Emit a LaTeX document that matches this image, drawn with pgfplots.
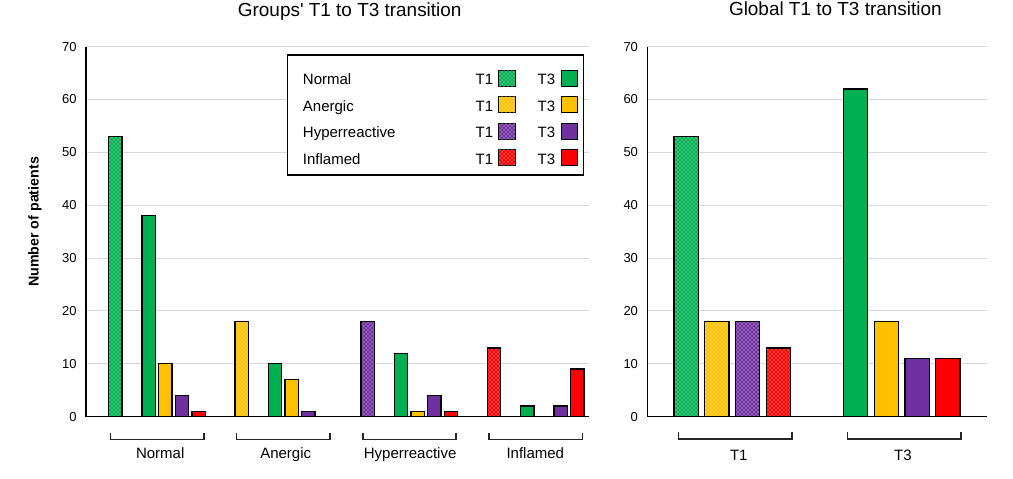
\documentclass[border=0pt]{standalone}
\usepackage{fontspec}
\setmainfont{Liberation Sans}
\usepackage{pgfplots}
\pgfplotsset{compat=1.18}
\usetikzlibrary{patterns}
\definecolor{cgreen}{HTML}{00B050}
\definecolor{cyellow}{HTML}{FFC000}
\definecolor{cpurple}{HTML}{7030A0}
\definecolor{cred}{HTML}{FF0000}
\definecolor{cgrid}{HTML}{D9D9D9}
\tikzset{brk/.style={draw=black!85, line width=1.25pt},
  lab/.style={anchor=base, font=\fontsize{11.25}{13}\selectfont}}
\pgfplotsset{
  base/.style={scale only axis, axis lines=left,
    axis line style={-, line width=1.05pt, black},
    ymin=0, ymax=70, ytick={0,10,...,70}, xtick=\empty,
    ymajorgrids, grid style={line width=0.75pt, color=cgrid},
    major tick length=0pt,
    tick label style={font=\fontsize{9.75}{11}\selectfont, black},
    /pgf/number format/assume math mode=true,
    yticklabel style={xshift=-3.5pt},
    clip=false},
  pat/.style={ybar, bar shift=0pt, draw=black, line width=0.95pt, fill=#1,
    postaction={pattern=crosshatch dots, pattern color=white}},
  sol/.style={ybar, bar shift=0pt, draw=black, line width=0.95pt, fill=#1},
}
\begin{document}
\begin{tikzpicture}[x=0.75pt,y=0.75pt]
\useasboundingbox (0,0) rectangle (1013,478);
% ---------------- left chart ----------------
\begin{axis}[base, at={(64.5pt,46pt)}, anchor=south west,
  width=377.5pt, height=277.5pt, xmin=-1.76, xmax=28.43]
\addplot[pat=cgreen, bar width=10pt] coordinates {(0,53)};
\addplot[pat=cyellow, bar width=10pt] coordinates {(7.57,18)};
\addplot[pat=cpurple, bar width=10pt] coordinates {(15.14,18)};
\addplot[pat=cred, bar width=10pt] coordinates {(22.71,13)};
\addplot[sol=cgreen, bar width=10pt] coordinates {(2,38) (9.57,10) (17.14,12) (24.71,2)};
\addplot[sol=cyellow, bar width=10pt] coordinates {(3,10) (10.57,7) (18.14,1) (25.71,0)};
\addplot[sol=cpurple, bar width=10pt] coordinates {(4,4) (11.57,1) (19.14,4) (26.71,2)};
\addplot[sol=cred, bar width=10pt] coordinates {(5,1) (12.57,0) (20.14,1) (27.71,9)};
\draw[brk] (axis cs:-0.3,-3.0) -- (axis cs:-0.3,-4.3) -- (axis cs:5.3,-4.3) -- (axis cs:5.3,-3.0);
\draw[brk] (axis cs:7.27,-3.0) -- (axis cs:7.27,-4.3) -- (axis cs:12.87,-4.3) -- (axis cs:12.87,-3.0);
\draw[brk] (axis cs:14.84,-3.0) -- (axis cs:14.84,-4.3) -- (axis cs:20.44,-4.3) -- (axis cs:20.44,-3.0);
\draw[brk] (axis cs:22.41,-3.0) -- (axis cs:22.41,-4.3) -- (axis cs:28.01,-4.3) -- (axis cs:28.01,-3.0);
\node[lab] at (axis cs:2.69,-8.0) {Normal};
\node[lab] at (axis cs:10.22,-8.0) {Anergic};
\node[lab] at (axis cs:17.68,-8.0) {Hyperreactive};
\node[lab] at (axis cs:25.19,-8.0) {Inflamed};
\end{axis}
% ---------------- right chart ----------------
\begin{axis}[base, at={(485.5pt,46pt)}, anchor=south west,
  width=254.5pt, height=277.5pt, xmin=-1.26, xmax=9.76]
\addplot[pat=cgreen, bar width=18.2pt] coordinates {(0,53)};
\addplot[pat=cyellow, bar width=18.2pt] coordinates {(1,18)};
\addplot[pat=cpurple, bar width=18.2pt] coordinates {(2,18)};
\addplot[pat=cred, bar width=18.2pt] coordinates {(3,13)};
\addplot[sol=cgreen, bar width=18.2pt] coordinates {(5.5,62)};
\addplot[sol=cyellow, bar width=18.2pt] coordinates {(6.5,18)};
\addplot[sol=cpurple, bar width=18.2pt] coordinates {(7.5,11)};
\addplot[sol=cred, bar width=18.2pt] coordinates {(8.5,11)};
\draw[brk] (axis cs:-0.25,-2.9) -- (axis cs:-0.25,-4.2) -- (axis cs:3.43,-4.2) -- (axis cs:3.43,-2.9);
\draw[brk] (axis cs:5.24,-2.9) -- (axis cs:5.24,-4.2) -- (axis cs:8.93,-4.2) -- (axis cs:8.93,-2.9);
\node[lab] at (axis cs:1.71,-8.2) {T1};
\node[lab] at (axis cs:7.04,-8.2) {T3};
\end{axis}
% ---------------- titles and label ----------------
\node[anchor=base, font=\fontsize{14.2}{16}\selectfont] at (349.7,461) {Groups\textquotesingle\ T1 to T3 transition};
\node[anchor=base, font=\fontsize{14.2}{16}\selectfont] at (835.3,462) {Global T1 to T3 transition};
\node[anchor=base, rotate=90, font=\fontsize{10.7}{12}\selectfont\bfseries] at (38.5,256) {Number of patients};
% ---------------- legend ----------------
\draw[black, line width=0.9pt, fill=white] (287.3,423) rectangle (583.3,303);
\foreach \i/\name/\col in {0/Normal/cgreen, 1/Anergic/cyellow, 2/Hyperreactive/cpurple, 3/Inflamed/cred}{
  \pgfmathsetmacro{\yb}{478-84.7-26.5*\i}
  \pgfmathsetmacro{\yc}{478-78.3-26.5*\i}
  \node[anchor=base west, inner sep=0pt, font=\fontsize{11.25}{13}\selectfont] at (302.7,\yb) {\name};
  \node[anchor=base east, inner sep=0pt, font=\fontsize{11.25}{13}\selectfont] at (493.5,\yb) {T1};
  \node[anchor=base east, inner sep=0pt, font=\fontsize{11.25}{13}\selectfont] at (555.5,\yb) {T3};
  \draw[black, line width=0.75pt, fill=\col, postaction={pattern=crosshatch dots, pattern color=white}] (498.3,\yc-8) rectangle (515,\yc+8);
  \draw[black, line width=0.75pt, fill=\col] (561,\yc-8) rectangle (577,\yc+8);
}
\end{tikzpicture}
\end{document}
